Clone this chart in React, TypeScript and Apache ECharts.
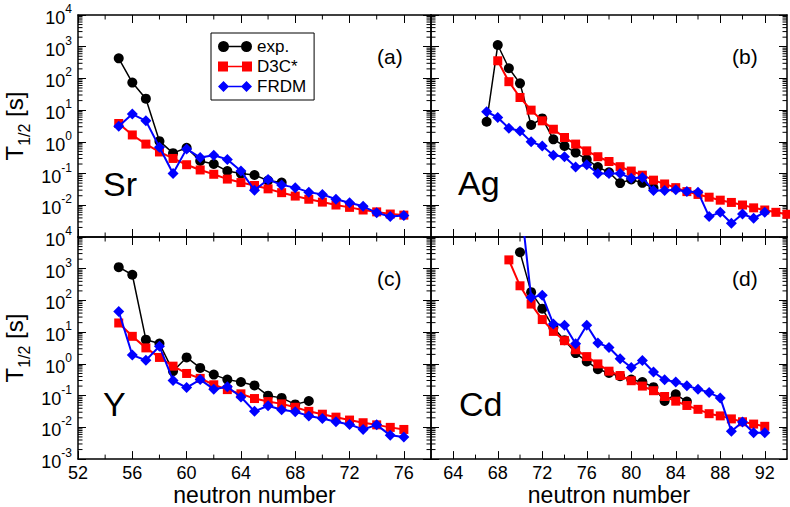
import React, { useEffect, useRef } from 'react';
import * as echarts from 'echarts';

type Pt = [number, number];

// (a) Sr
const srExp: Pt[] = [[55, 430], [56, 74], [57, 23], [58, 1.05], [59, 0.44], [60, 0.65], [61, 0.25], [62, 0.2], [63, 0.12], [64, 0.1], [65, 0.09], [66, 0.06], [67, 0.052]];
const srD3C: Pt[] = [[55, 3.8], [56, 1.65], [57, 0.85], [58, 0.48], [59, 0.3], [60, 0.19], [61, 0.13], [62, 0.095], [63, 0.067], [64, 0.052], [65, 0.042], [66, 0.033], [67, 0.025], [68, 0.0195], [69, 0.0155], [70, 0.0126], [71, 0.0102], [72, 0.0086], [73, 0.0071], [74, 0.0062], [75, 0.0053], [76, 0.0049]];
const srFrdm: Pt[] = [[55, 3.1], [56, 7.5], [57, 4.6], [58, 0.68], [59, 0.1], [60, 0.6], [61, 0.32], [62, 0.38], [63, 0.28], [64, 0.12], [65, 0.03], [66, 0.065], [67, 0.044], [68, 0.036], [69, 0.026], [70, 0.022], [71, 0.0155], [72, 0.012], [73, 0.0093], [74, 0.0058], [75, 0.0044], [76, 0.0048]];

// (b) Ag
const agExp: Pt[] = [[67, 4.3], [68, 1130], [69, 210], [70, 70], [71, 3.4], [72, 5.5], [73, 1.2], [74, 0.74], [75, 0.46], [76, 0.28], [77, 0.16], [78, 0.11], [79, 0.05], [80, 0.065], [81, 0.051], [82, 0.035]];
const agD3C: Pt[] = [[68, 360], [69, 79], [70, 25], [71, 10], [72, 4.6], [73, 2.5], [74, 1.37], [75, 0.85], [76, 0.52], [77, 0.34], [78, 0.24], [79, 0.165], [80, 0.12], [81, 0.089], [82, 0.062], [83, 0.047], [84, 0.036], [85, 0.027], [86, 0.022], [87, 0.018], [88, 0.0145], [89, 0.0123], [90, 0.0102], [91, 0.0083], [92, 0.0071], [93, 0.006], [94, 0.0052]];
const agFrdm: Pt[] = [[67, 8.9], [68, 5.9], [69, 2.7], [70, 2.2], [71, 1.0], [72, 0.74], [73, 0.38], [74, 0.34], [75, 0.16], [76, 0.19], [77, 0.1], [78, 0.1], [79, 0.1], [80, 0.071], [81, 0.075], [82, 0.029], [83, 0.029], [84, 0.031], [85, 0.027], [86, 0.026], [87, 0.0044], [88, 0.006], [89, 0.0027], [90, 0.0053], [91, 0.0039], [92, 0.006]];

// (c) Y
const yExp: Pt[] = [[55, 1120], [56, 645], [57, 5.8], [58, 4.4], [59, 0.59], [60, 1.6], [61, 0.75], [62, 0.46], [63, 0.32], [64, 0.27], [65, 0.21], [66, 0.1], [67, 0.085], [68, 0.053], [69, 0.068]];
const yD3C: Pt[] = [[55, 19.5], [56, 7.4], [57, 3.2], [58, 1.6], [59, 0.85], [60, 0.5], [61, 0.35], [62, 0.22], [63, 0.155], [64, 0.114], [65, 0.081], [66, 0.065], [67, 0.055], [68, 0.043], [69, 0.032], [70, 0.026], [71, 0.021], [72, 0.017], [73, 0.014], [74, 0.012], [75, 0.01], [76, 0.0086]];
const yFrdm: Pt[] = [[55, 45], [56, 1.9], [57, 1.3], [58, 3.6], [59, 0.3], [60, 0.18], [61, 0.32], [62, 0.16], [63, 0.19], [64, 0.091], [65, 0.032], [66, 0.048], [67, 0.036], [68, 0.031], [69, 0.023], [70, 0.019], [71, 0.015], [72, 0.0124], [73, 0.0086], [74, 0.012], [75, 0.0056], [76, 0.005]];

// (d) Cd
const cdExp: Pt[] = [[70, 3300], [71, 183], [72, 55], [73, 14], [74, 5.6], [75, 2.2], [76, 1.2], [77, 0.68], [78, 0.52], [79, 0.41], [80, 0.32], [81, 0.27], [82, 0.185], [83, 0.068], [84, 0.11], [85, 0.065]];
const cdD3C: Pt[] = [[69, 1900], [70, 290], [71, 77], [72, 25], [73, 10.6], [74, 5.4], [75, 2.8], [76, 1.7], [77, 1.0], [78, 0.59], [79, 0.43], [80, 0.295], [81, 0.2], [82, 0.143], [83, 0.094], [84, 0.067], [85, 0.049], [86, 0.037], [87, 0.027], [88, 0.023], [89, 0.0185], [90, 0.015], [91, 0.0127], [92, 0.0108]];
const cdFrdm: Pt[] = [[70, 2e5], [71, 125], [72, 145], [73, 18], [74, 16.5], [75, 4.3], [76, 16.5], [77, 4.6], [78, 3.3], [79, 1.45], [80, 0.77], [81, 1.28], [82, 0.555], [83, 0.315], [84, 0.27], [85, 0.205], [86, 0.16], [87, 0.125], [88, 0.085], [89, 0.0076], [90, 0.0148], [91, 0.0068], [92, 0.0068]];

const seriesNames = ['exp.', 'D3C*', 'FRDM'];
const panelData: Pt[][][] = [
  [srExp, srD3C, srFrdm],
  [agExp, agD3C, agFrdm],
  [yExp, yD3C, yFrdm],
  [cdExp, cdD3C, cdFrdm],
];
const elementNames = ['Sr', 'Ag', 'Y', 'Cd'];
const panelTags = ['(a)', '(b)', '(c)', '(d)'];

const xTicksLeft = [52, 56, 60, 64, 68, 72, 76];
const xMinorLeft = [54, 58, 62, 66, 70, 74];
const xTicksRight = [64, 68, 72, 76, 80, 84, 88, 92];
const xMinorRight = [66, 70, 74, 78, 82, 86, 90];
const yDecadeExps = [-3, -2, -1, 0, 1, 2, 3];
const yMinorMult = [2, 3, 4, 5, 6, 7, 8, 9];

const FONT = '"Liberation Sans", Arial, Helvetica, sans-serif';

const grids = [
  { left: 78, top: 15, width: 353, height: 222 },
  { left: 431, top: 15, width: 356, height: 222 },
  { left: 78, top: 237, width: 353, height: 223 },
  { left: 431, top: 237, width: 356, height: 223 },
];

const colors = ['#000000', '#ff0000', '#0000ff'];
const symbols = ['circle', 'rect', 'diamond'];
const symbolSizes = [10, 9, 11];
const lineWidths = [1.5, 2, 2];

const iconExp = 'path://M0,5.5A5.5,5.5,0,1,1,11,5.5A5.5,5.5,0,1,1,0,5.5Z M23,5.5A5.5,5.5,0,1,1,34,5.5A5.5,5.5,0,1,1,23,5.5Z M10,4.75H24V6.25H10Z';
const iconD3C = 'path://M0,0.5H10V10.5H0Z M24,0.5H34V10.5H24Z M9,4.75H25V6.25H9Z';
const iconFrdm = 'path://M5.5,0L11,5.5L5.5,11L0,5.5Z M28.5,0L34,5.5L28.5,11L23,5.5Z M10,4.75H24V6.25H10Z';

function buildOption() {
  const yMinorVals: number[] = [];
  yDecadeExps.forEach((e) => yMinorMult.forEach((m) => yMinorVals.push(Number((m * Math.pow(10, e)).toPrecision(3)))));

  const xAxis: any[] = [];
  const yAxis: any[] = [];
  const series: any[] = [];

  // bottom x axes 0..3
  for (let g = 0; g < 4; g++) {
    const isLeft = g % 2 === 0;
    const isBottomRow = g >= 2;
    const majors = isLeft ? xTicksLeft : xTicksRight;
    xAxis.push({
      type: 'value', gridIndex: g, position: 'bottom',
      min: isLeft ? 52 : 62, max: isLeft ? 78 : 94,
      axisLine: { show: true, onZero: false, lineStyle: { color: '#000', width: 1.5 } },
      axisTick: { show: true, inside: true, length: 8, customValues: majors, lineStyle: { color: '#000', width: 1 } },
      axisLabel: { show: isBottomRow, customValues: majors, fontSize: 18, color: '#000', fontFamily: FONT, margin: 5 },
      splitLine: { show: false },
      name: isBottomRow ? 'neutron number' : '',
      nameLocation: 'middle', nameGap: 22,
      nameTextStyle: { fontSize: 23, color: '#000', fontFamily: FONT },
    });
  }
  // top x axes 4..7
  for (let g = 0; g < 4; g++) {
    const isLeft = g % 2 === 0;
    const majors = isLeft ? xTicksLeft : xTicksRight;
    xAxis.push({
      type: 'value', gridIndex: g, position: 'top',
      min: isLeft ? 52 : 62, max: isLeft ? 78 : 94,
      axisLine: { show: true, onZero: false, lineStyle: { color: '#000', width: 1.5 } },
      axisTick: { show: true, inside: true, length: 8, customValues: majors, lineStyle: { color: '#000', width: 1 } },
      axisLabel: { show: false },
      splitLine: { show: false },
    });
  }
  // left y axes 0..3
  for (let g = 0; g < 4; g++) {
    const isLeft = g % 2 === 0;
    const isTop = g < 2;
    yAxis.push({
      type: 'log', logBase: 10, gridIndex: g, position: 'left',
      min: 0.001, max: 10000, splitNumber: 7,
      axisLine: { show: true, onZero: false, lineStyle: { color: '#000', width: 1.5 } },
      axisTick: { show: true, inside: true, length: 8, lineStyle: { color: '#000', width: 1 } },
      axisLabel: {
        show: isLeft, showMinLabel: !isTop, margin: 6, color: '#000',
        formatter: (v: number) => `{b|10}{s|${Math.round(Math.log10(v))}}`,
        rich: {
          b: { fontSize: 18, fontFamily: FONT, color: '#000', lineHeight: 24, verticalAlign: 'bottom' },
          s: { fontSize: 12, fontFamily: FONT, color: '#000', verticalAlign: 'top' },
        },
      },
      splitLine: { show: false },
      name: isLeft ? '{t|T}{sub|1/2}{t| [s]}' : '',
      nameLocation: 'middle', nameGap: 46, nameRotate: 90,
      nameTextStyle: {
        color: '#000',
        rich: {
          t: { fontSize: 24, fontFamily: FONT, color: '#000', lineHeight: 30, verticalAlign: 'top' },
          sub: { fontSize: 16, fontFamily: FONT, color: '#000', verticalAlign: 'bottom' },
        },
      },
    });
  }
  // right y axes 4..7
  for (let g = 0; g < 4; g++) {
    yAxis.push({
      type: 'log', logBase: 10, gridIndex: g, position: 'right',
      min: 0.001, max: 10000, splitNumber: 7,
      axisLine: { show: true, onZero: false, lineStyle: { color: '#000', width: 1.5 } },
      axisTick: { show: true, inside: true, length: 8, lineStyle: { color: '#000', width: 1 } },
      axisLabel: { show: false },
      splitLine: { show: false },
    });
  }

  // minor ticks drawn through the axes' scales
  for (let g = 0; g < 4; g++) {
    const isLeft = g % 2 === 0;
    const xs = isLeft ? xMinorLeft : xMinorRight;
    const xMin = isLeft ? 52 : 62;
    const d: number[][] = [];
    xs.forEach((x) => d.push([x, 1, 0]));
    yMinorVals.forEach((y) => d.push([xMin, y, 1]));
    series.push({
      type: 'custom', xAxisIndex: g, yAxisIndex: g, silent: true, z: 1,
      data: d,
      renderItem: (params: any, api: any) => {
        const cs = params.coordSys;
        const kind = api.value(2);
        const pt = api.coord([api.value(0), api.value(1)]);
        const st = { stroke: '#000', lineWidth: 1 };
        const L = 4.5;
        if (kind === 0) {
          const x = pt[0];
          return {
            type: 'group', children: [
              { type: 'line', shape: { x1: x, y1: cs.y + cs.height, x2: x, y2: cs.y + cs.height - L }, style: st },
              { type: 'line', shape: { x1: x, y1: cs.y, x2: x, y2: cs.y + L }, style: st },
            ],
          };
        }
        const y = pt[1];
        return {
          type: 'group', children: [
            { type: 'line', shape: { x1: cs.x, y1: y, x2: cs.x + L, y2: y }, style: st },
            { type: 'line', shape: { x1: cs.x + cs.width, y1: y, x2: cs.x + cs.width - L, y2: y }, style: st },
          ],
        };
      },
    });
  }

  // data series
  for (let g = 0; g < 4; g++) {
    for (let s = 0; s < 3; s++) {
      series.push({
        name: seriesNames[s], type: 'line', xAxisIndex: g, yAxisIndex: g,
        data: panelData[g][s],
        symbol: symbols[s], symbolSize: symbolSizes[s],
        lineStyle: { color: colors[s], width: lineWidths[s] },
        itemStyle: { color: colors[s] },
        z: 3 + s, clip: true,
      });
    }
  }

  const graphic: any[] = [];
  const tagPos = [[377, 56], [732, 56], [377, 278], [732, 278]];
  const namePos = [[103, 184], [458, 183], [103, 404], [459, 404]];
  for (let g = 0; g < 4; g++) {
    graphic.push({
      type: 'text', x: tagPos[g][0], y: tagPos[g][1],
      style: { text: panelTags[g], fontSize: 21, fontFamily: FONT, fill: '#000', verticalAlign: 'middle', align: 'left' },
    });
    graphic.push({
      type: 'text', x: namePos[g][0], y: namePos[g][1],
      style: { text: elementNames[g], fontSize: 34, fontFamily: FONT, fill: '#000', verticalAlign: 'middle', align: 'left' },
    });
  }

  return {
    animation: false,
    backgroundColor: '#fff',
    grid: grids.map((gr) => ({ ...gr, containLabel: false, show: false })),
    xAxis, yAxis, series, graphic,
    legend: {
      left: 211, top: 33, orient: 'vertical',
      data: [
        { name: 'exp.', icon: iconExp },
        { name: 'D3C*', icon: iconD3C },
        { name: 'FRDM', icon: iconFrdm },
      ],
      itemWidth: 34, itemHeight: 11, itemGap: 3, itemStyle: { borderWidth: 0 },
      padding: [5, 8, 5, 7],
      borderColor: '#000', borderWidth: 1, backgroundColor: '#fff',
      textStyle: { fontSize: 17, fontFamily: FONT, color: '#000' },
      selectedMode: false,
    },
  };
}

export default function App() {
  const ref = useRef<HTMLDivElement>(null);
  useEffect(() => {
    document.body.style.margin = '0';
    const chart = echarts.init(ref.current!, undefined, { renderer: 'svg' });
    chart.setOption(buildOption() as any);
    return () => chart.dispose();
  }, []);
  return <div ref={ref} style={{ width: 790, height: 507 }} />;
}
